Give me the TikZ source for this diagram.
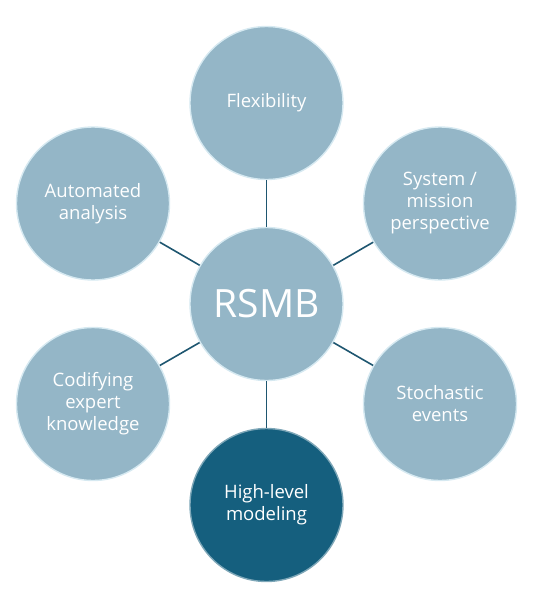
\documentclass[tikz,border=0pt]{standalone}
\usepackage{fontspec}
\setmainfont{Open Sans}
\definecolor{lightc}{HTML}{94B6C7}
\definecolor{darkc}{HTML}{155F7E}
\definecolor{linec}{HTML}{1E5670}
\definecolor{rimc}{HTML}{D6E9F1}
\begin{document}
\begin{tikzpicture}[x=1pt,y=-1pt,
  bubble/.style={circle, minimum size=153pt, inner sep=0pt, fill=lightc, draw=rimc, line width=1.4pt,
    text=white, align=center, font=\fontsize{18.5}{22}\selectfont},
  darkbubble/.style={bubble, fill=darkc, draw=darkc!55!white},
  conn/.style={draw=linec, line width=1.6pt}]
\useasboundingbox (0,0) rectangle (556,603);
\node[bubble, font=\fontsize{39}{44}\selectfont] (c) at (266.5,304) {RSMB};
\node[bubble] (t) at (266.5,103) {Flexibility};
\node[bubble] (ur) at (440,203.5) {System /\\mission\\perspective};
\node[bubble] (lr) at (440,404) {Stochastic\\events};
\node[darkbubble] (b) at (266.5,505) {High-level\\modeling};
\node[bubble] (ll) at (93,404) {Codifying\\expert\\knowledge};
\node[bubble] (ul) at (93,203.5) {Automated\\analysis};
\foreach \n in {t,ur,lr,b,ll,ul} \draw[conn] (c) -- (\n);
\end{tikzpicture}
\end{document}
